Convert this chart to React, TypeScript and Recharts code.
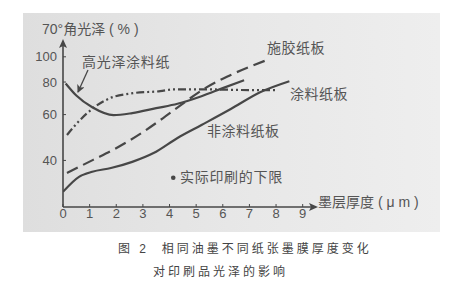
import { ComposedChart, Line, Scatter, XAxis, YAxis } from "recharts";

// 横轴：墨层厚度 (μm)，纵轴：70°角光泽 (%)
const xTicks = [0, 1, 2, 3, 4, 5, 6, 7, 8, 9];
const yTicks = [40, 60, 80, 100];

// 高光泽涂料纸
const highGlossX = [0.1, 0.5, 1.1, 1.9, 2.6, 3.5, 4.3, 5.2, 6.0, 6.8];
const highGlossY = [79, 71, 64, 59.7, 60.8, 63.5, 66, 70.6, 75.8, 81.3];

// 施胶纸板
const sizedX = [0.15, 1.13, 1.88, 3.0, 3.76, 4.32, 5.34, 6.28, 7.63];
const sizedY = [35.8, 40.2, 43.9, 51.4, 58.2, 64.1, 75.8, 85.0, 97.0];

// 涂料纸板
const coatedX = [0.15, 0.64, 1.13, 1.77, 2.63, 3.65, 4.14, 5.26, 7.14, 7.97];
const coatedY = [50.1, 57.2, 63.5, 69.4, 72.5, 73.8, 75, 75, 74.5, 74.5];

// 非涂料纸板
const uncoatedX = [0, 0.6, 1.1, 1.8, 2.6, 3.4, 4.3, 5.2, 6.3, 7.4, 8.5];
const uncoatedY = [30.3, 34.6, 36.2, 37.4, 39.5, 42.7, 48.8, 54.7, 63.0, 73.1, 80.6];

// 实际印刷的下限
const limitX = [4.14];
const limitY = [34.3];

const toPoints = (xs: number[], ys: number[]) => xs.map((x, i) => ({ x, y: ys[i] }));

const INK = "#474747";
const TEXT = "#555";
const FONT = "'Liberation Sans', 'Noto Sans CJK SC', sans-serif";

function Note({ x, cy, size = 14, spacing = 0, color = TEXT, children }: any) {
    return (
        <div
            style={{
                position: "absolute",
                left: x,
                top: cy - 9,
                lineHeight: "18px",
                fontSize: size,
                letterSpacing: spacing,
                color,
                whiteSpace: "pre",
                fontFamily: FONT,
            }}
        >
            {children}
        </div>
    );
}

export default function App() {
    return (
        <div style={{ position: "fixed", left: 0, top: 0, width: 461, height: 288, background: "#fff", overflow: "hidden" }}>
            <div
                style={{
                    position: "absolute",
                    left: 23,
                    top: 13,
                    width: 417,
                    height: 219,
                    background: "linear-gradient(to right, #dedede, #e8e8e8 55%, #eeeeee)",
                }}
            />
            <ComposedChart
                width={461}
                height={288}
                margin={{ top: 41, right: 145, left: 33, bottom: 61 }}
                style={{ position: "absolute", left: 0, top: 0, fontFamily: FONT }}
            >
                <XAxis
                    dataKey="x"
                    type="number"
                    domain={[0, 9.5]}
                    ticks={xTicks}
                    allowDataOverflow
                    height={20}
                    stroke={INK}
                    axisLine={{ stroke: INK, strokeWidth: 1.6, markerEnd: "url(#axArrow)" }}
                    tickLine={{ stroke: INK }}
                    tickSize={-3}
                    tickMargin={5}
                    tick={{ fill: TEXT, fontSize: 13 }}
                />
                <YAxis
                    dataKey="y"
                    type="number"
                    scale="log"
                    domain={[26.5, 115]}
                    ticks={yTicks}
                    allowDataOverflow
                    width={30}
                    stroke={INK}
                    axisLine={{ stroke: INK, strokeWidth: 1.6, markerStart: "url(#axArrow)" }}
                    tickLine={{ stroke: INK }}
                    tickSize={-3}
                    tickMargin={9}
                    tick={{ fill: TEXT, fontSize: 13 }}
                />
                <Line
                    data={toPoints(sizedX, sizedY)}
                    dataKey="y"
                    type="monotone"
                    stroke={INK}
                    strokeWidth={2.2}
                    strokeDasharray="12 6"
                    dot={false}
                    isAnimationActive={false}
                />
                <Line
                    data={toPoints(coatedX, coatedY)}
                    dataKey="y"
                    type="monotone"
                    stroke={INK}
                    strokeWidth={2.2}
                    strokeDasharray="8 3 2 3 2 3"
                    dot={false}
                    isAnimationActive={false}
                />
                <Line
                    data={toPoints(highGlossX, highGlossY)}
                    dataKey="y"
                    type="monotone"
                    stroke={INK}
                    strokeWidth={2.2}
                    dot={false}
                    isAnimationActive={false}
                />
                <Line
                    data={toPoints(uncoatedX, uncoatedY)}
                    dataKey="y"
                    type="monotone"
                    stroke={INK}
                    strokeWidth={2.2}
                    dot={false}
                    isAnimationActive={false}
                />
                <Scatter
                    data={toPoints(limitX, limitY)}
                    dataKey="y"
                    isAnimationActive={false}
                    shape={(p: any) => <circle cx={p.cx} cy={p.cy} r={2.3} fill={INK} />}
                />
            </ComposedChart>

            <svg width={461} height={288} style={{ position: "absolute", left: 0, top: 0, pointerEvents: "none" }}>
                <defs>
                    <marker id="axArrow" markerUnits="userSpaceOnUse" markerWidth={10} markerHeight={10} refX={7} refY={4} orient="auto-start-reverse">
                        <path d="M0,0 L9,4 L0,8 L2,4 z" fill={INK} />
                    </marker>
                    <marker id="noteArrow" markerUnits="userSpaceOnUse" markerWidth={10} markerHeight={10} refX={7} refY={4} orient="auto">
                        <path d="M0,0 L8,4 L0,8 L2,4 z" fill={INK} />
                    </marker>
                </defs>
                <line x1={88} y1={70} x2={78} y2={92} stroke={INK} strokeWidth={1.3} markerEnd="url(#noteArrow)" />
            </svg>

            <Note x={42} cy={29}>70°角光泽 ( % )</Note>
            <Note x={82} cy={62} spacing={0.7}>高光泽涂料纸</Note>
            <Note x={267} cy={48} spacing={0.5}>施胶纸板</Note>
            <Note x={290} cy={94} spacing={0.5}>涂料纸板</Note>
            <Note x={207} cy={131} spacing={0.5}>非涂料纸板</Note>
            <Note x={180} cy={177} spacing={0.7}>实际印刷的下限</Note>
            <Note x={318} cy={202}>墨层厚度 ( μ m )</Note>
            <Note x={118} cy={249} size={12} spacing={3} color="#444">图 2  相同油墨不同纸张墨膜厚度变化</Note>
            <Note x={153} cy={272} size={12} spacing={3} color="#444">对印刷品光泽的影响</Note>
        </div>
    );
}
